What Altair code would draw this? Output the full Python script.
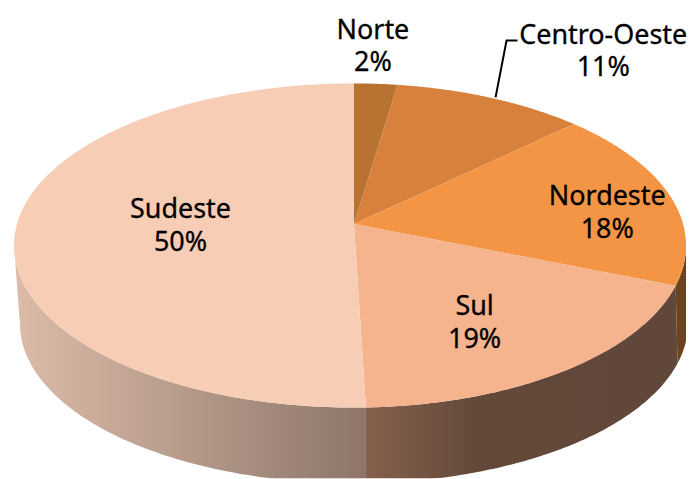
import math
import altair as alt
import pandas as pd

regions = ["Norte", "Centro-Oeste", "Nordeste", "Sul", "Sudeste"]
shares = [2.4, 10.6, 18.0, 18.5, 50.5]
pct_labels = ["2%", "11%", "18%", "19%", "50%"]
top_colors = ["#B87232", "#D8813C", "#F39544", "#F5B48E", "#F8CDB6"]

# perspective model of the disc, in page pixels
CX, CY, A, D, E = 355.0, 224.0, 338.0, 159.7, 0.1323
TOP_CY, TOP_RX, TOP_RY = 245.5, 341.0, 162.5
BOT_CY, BOT_RX, BOT_RY = 324.0, 335.0, 160.0
RIGHT_SQUEEZE = 333.0 / 341.0  # the page ends at x=688


def rim(pct):
    t = 2 * math.pi * pct / 100
    u, v = math.sin(t), math.cos(t)
    w = 1 + E * v
    dx = A * u / w
    return CX + (dx * RIGHT_SQUEEZE if dx > 0 else dx), CY - D * v / w


def drop(x, y):
    rx = TOP_RX * RIGHT_SQUEEZE if x > CX else TOP_RX
    return CX + BOT_RX * (x - CX) / rx, BOT_CY + BOT_RY * (y - TOP_CY) / TOP_RY


def steps(a, b, n=120):
    return [a + (b - a) * i / n for i in range(n + 1)]


def poly(points):
    return pd.DataFrame([{"x": p[0], "y": p[1], "i": i} for i, p in enumerate(points)])


X = alt.X("x:Q", axis=None, scale=alt.Scale(domain=[8, 688], nice=False, zero=False))
Y = alt.Y("y:Q", axis=None, scale=alt.Scale(domain=[479, 8], nice=False, zero=False))


def shape(points, fill):
    return (
        alt.Chart(poly(points))
        .mark_line(fill=fill, stroke=None, strokeWidth=0, clip=True)
        .encode(x=X, y=Y, order=alt.Order("i:Q"))
    )


def grad(stops):
    return alt.Gradient(
        gradient="linear", x1=0, x2=1, y1=0, y2=0,
        stops=[alt.GradientStop(offset=o, color=c) for o, c in stops],
    )


cum = [0.0]
for s in shares:
    cum.append(cum[-1] + s)


def wall(p0, p1):
    rimpts = [rim(p) for p in steps(p0, p1)]
    return rimpts + [drop(*p) for p in reversed(rimpts)]


layers = [
    shape(wall(cum[4], 72.9), grad([(0, "#DCBBA8"), (0.5, "#B59A8A"), (1, "#8D756A")])),
    shape(wall(cum[3], cum[4]), grad([(0, "#85614C"), (0.35, "#64493A"), (1, "#604739")])),
    shape(wall(27.1, cum[3]), "#6B441F"),
]
for k in range(5):
    pts = [(CX, CY)] + [rim(p) for p in steps(cum[k], cum[k + 1])]
    layers.append(shape(pts, top_colors[k]))

leader = pd.DataFrame({"x": [497, 508, 519], "y": [97, 40, 40], "i": [0, 1, 2]})
layers.append(
    alt.Chart(leader).mark_line(color="#000000", strokeWidth=2).encode(x=X, y=Y, order=alt.Order("i:Q"))
)

label_place = {
    "Norte": (374, 30),
    "Centro-Oeste": (605, 35),
    "Nordeste": (609, 197),
    "Sul": (476, 307),
    "Sudeste": (181, 210),
}
labels = pd.DataFrame(
    [
        {"x": label_place[r][0], "y": label_place[r][1], "t": f"{r}\n{p}"}
        for r, p in zip(regions, pct_labels)
    ]
)
layers.append(
    alt.Chart(labels)
    .mark_text(font="Noto Sans", fontSize=27, color="#000000", stroke="#000000", strokeWidth=0.3,
               align="center", baseline="middle", lineBreak="\n", lineHeight=33)
    .encode(x=X, y=Y, text="t:N")
)

chart = (
    alt.layer(*layers)
    .properties(width=680, height=471, padding=0, background="white")
    .configure_view(stroke=None)
)
chart.save("out.html", embed_options={"renderer": "svg", "actions": False})
